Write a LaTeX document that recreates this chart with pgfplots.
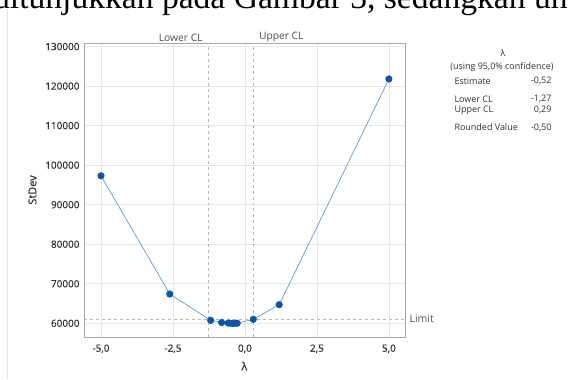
\documentclass[border=0pt]{standalone}
\usepackage{pgfplots}
\pgfplotsset{compat=1.18}
\usepackage{fontspec}
\setmainfont{Open Sans}
\newfontfamily\semib{Open Sans}[FakeBold=0.5]
\newfontfamily\serifbody{Liberation Serif}
\definecolor{gridc}{HTML}{E6E6E6}
\definecolor{framec}{HTML}{A6A6A6}
\definecolor{linec}{HTML}{5B9BD5}
\definecolor{markc}{HTML}{0A56A8}
\definecolor{txt}{HTML}{303030}
\definecolor{refc}{HTML}{B8B8B8}
\begin{document}
\begin{tikzpicture}[x=1bp,y=1bp]
\useasboundingbox (0,0) rectangle (568,379);
\begin{scope}
\clip (0,0) rectangle (568,379);
\node[anchor=base west,inner sep=0pt,font=\serifbody\fontsize{33.7}{40}\selectfont] at (-7,370.5) {ditunjukkan pada Gambar 3, sedangkan untuk};
\end{scope}
\draw[gridc,line width=0.8bp] (7,0) -- (7,370);
\begin{axis}[
  at={(84bp,42bp)}, anchor=south west,
  width=321bp, height=294bp, scale only axis,
  xmin=-5.59, xmax=5.56, ymin=56530, ymax=130900,
  xtick={-5,-2.5,0,2.5,5},
  xticklabels={{-5,0},{-2,5},{0,0},{2,5},{5,0}},
  ytick={60000,70000,80000,90000,100000,110000,120000,130000},
  scaled y ticks=false,
  yticklabel style={/pgf/number format/fixed,/pgf/number format/1000 sep={}},
  /pgf/number format/assume math mode=true,
  ticklabel style={font=\semib\fontsize{10}{12}\selectfont, text=txt},
  major tick length=0pt,
  xticklabel style={yshift=-4bp},
  yticklabel style={xshift=-1bp},
  grid=major,
  grid style={gridc, line width=0.7bp},
  axis line style={framec, line width=0.9bp},
  xlabel={λ}, ylabel={StDev},
  label style={font=\semib\fontsize{11}{13}\selectfont, text=txt},
  xlabel style={yshift=-2bp},
  ylabel style={yshift=2bp},
  clip=false,
]
\draw[refc, dashed, line width=0.7bp] (axis cs:-1.27,56530) -- (axis cs:-1.27,130900);
\draw[refc, dashed, line width=0.7bp] (axis cs:0.29,56530) -- (axis cs:0.29,130900);
\draw[refc, dashed, line width=0.7bp] (axis cs:-5.59,61090) -- (axis cs:5.56,61090);
\node[anchor=south east, font=\fontsize{10.3}{12}\selectfont, text=txt!85, inner sep=1bp] at (axis cs:-1.43,130900) {Lower CL};
\node[anchor=south west, font=\fontsize{10.3}{12}\selectfont, text=txt!85, inner sep=1bp] at (axis cs:0.45,130900) {Upper CL};
\node[anchor=west, font=\fontsize{10.5}{12}\selectfont, text=txt!85, inner sep=1bp] at (axis cs:5.68,61090) {Limit};
\addplot[linec, line width=0.7bp, mark=*, mark size=3.2bp, mark options={fill=markc, draw=markc}]
coordinates {
(-5,97300) (-2.61,67400) (-1.19,60750) (-0.81,60200) (-0.58,60050) (-0.49,60000)
(-0.42,60000) (-0.35,60000) (-0.27,60010) (0.29,61000) (1.19,64700) (5,121800)
};
\end{axis}
\begin{scope}[font=\fontsize{9}{11}\selectfont, text=txt]
\node at (503,326) {λ};
\node at (502,312) {(using 95,0\% confidence)};
\node[anchor=west] at (451,298) {Estimate};
\node[anchor=east] at (555,298) {-0,52};
\node[anchor=west] at (451,280) {Lower CL};
\node[anchor=east] at (555,280) {-1,27};
\node[anchor=west] at (451,269) {Upper CL};
\node[anchor=east] at (555,269) {0,29};
\node[anchor=west] at (451,251.5) {Rounded Value};
\node[anchor=east] at (555,251.5) {-0,50};
\end{scope}
\end{tikzpicture}
\end{document}
